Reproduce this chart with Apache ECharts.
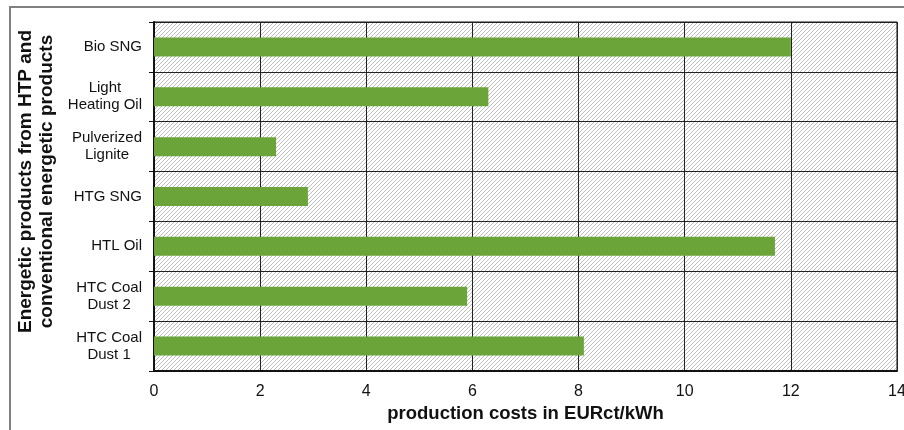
<!DOCTYPE html>
<html>
<head>
<meta charset="utf-8">
<script src="https://cdn.jsdelivr.net/npm/echarts@6/dist/echarts.min.js"></script>
<style>
  html, body { margin: 0; padding: 0; background: #fff; }
  #chart { width: 904px; height: 430px; }
</style>
</head>
<body>
<div id="chart"></div>
<script>
// categories from top to bottom
const products = ['Bio SNG', 'Light\nHeating Oil', 'Pulverized\nLignite', 'HTG SNG', 'HTL Oil', 'HTC Coal\nDust 2', 'HTC Coal\nDust 1'];
const costs = [12, 6.3, 2.3, 2.9, 11.7, 5.9, 8.1];

// diagonal hatch for the plot background
function hatch() {
  const c = document.createElement('canvas');
  c.width = 4; c.height = 4;
  const ctx = c.getContext('2d');
  ctx.fillStyle = '#fff';
  ctx.fillRect(0, 0, 4, 4);
  ctx.strokeStyle = '#bdbdbd';
  ctx.lineWidth = 1;
  ctx.beginPath();
  ctx.moveTo(-1, 5); ctx.lineTo(5, -1);
  ctx.moveTo(-1, 1); ctx.lineTo(1, -1);
  ctx.moveTo(3, 5); ctx.lineTo(5, 3);
  ctx.stroke();
  return c;
}

const myChart = echarts.init(document.getElementById('chart'));

const option = {
  animation: false,
  textStyle: { fontFamily: 'Liberation Sans, Arial, sans-serif', color: '#111' },
  graphic: [{
    type: 'rect',
    shape: { x: 10, y: 7, width: 1000, height: 1000 },
    style: { fill: null, stroke: '#808080', lineWidth: 2 },
    silent: true, z: -10
  }],
  grid: {
    left: 154,
    right: 7,
    top: 22,
    bottom: 59,
    outerBoundsMode: 'none',
    containLabel: false,
    show: true,
    backgroundColor: { image: hatch(), repeat: 'repeat' },
    borderColor: '#111',
    borderWidth: 1
  },
  xAxis: {
    type: 'value',
    min: 0,
    max: 14,
    interval: 2,
    name: 'production costs in EURct/kWh',
    nameLocation: 'middle',
    nameGap: 32,
    nameTextStyle: { fontSize: 18.5, fontWeight: 'bold', color: '#111' },
    axisLine: { show: true, lineStyle: { color: '#111', width: 2 } },
    axisTick: { show: false },
    axisLabel: { fontSize: 16, color: '#111', margin: 13 },
    splitLine: { show: true, lineStyle: { color: '#222', width: 1 } }
  },
  yAxis: {
    type: 'category',
    data: products,
    inverse: true,
    name: 'Energetic products from HTP and\nconventional energetic products',
    nameLocation: 'middle',
    nameRotate: 90,
    nameGap: 93,
    nameTextStyle: { fontSize: 19, fontWeight: 'bold', color: '#111', lineHeight: 21, padding: [0, 0, 0, 30] },
    axisLine: { show: true, lineStyle: { color: '#111', width: 2 } },
    axisTick: { show: true, length: 5, lineStyle: { color: '#111' } },
    axisLabel: {
      fontSize: 15,
      color: '#111',
      align: 'right',
      margin: 12,
      lineHeight: 17,
      // centre the lines of each label inside its right-aligned block
      formatter: (value) => value.split('\n').map(s => '{c|' + s + '}').join('\n'),
      rich: { c: { align: 'center', fontSize: 15, lineHeight: 17, color: '#111' } }
    },
    splitLine: { show: true, lineStyle: { color: '#222', width: 1 } }
  },
  series: [{
    type: 'bar',
    data: costs,
    barWidth: 19,
    itemStyle: { color: '#6ba539' }
  }]
};

myChart.setOption(option);

window.onresize = () => {
  myChart.resize();
};
</script>
</body>
</html>
